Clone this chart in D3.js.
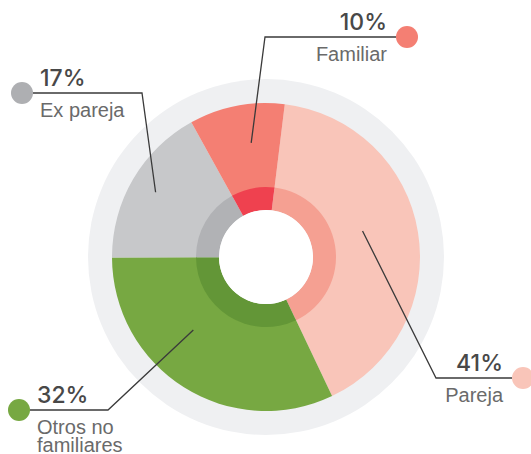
<!DOCTYPE html>
<html>
<head>
<meta charset="utf-8">
<script src="https://cdn.jsdelivr.net/npm/d3@7"></script>
<style>
  body { margin: 0; background: #fff; }
  .pct { font-family: Inter, "Noto Sans", sans-serif; font-size: 23px; font-weight: 500; fill: #484848; }
  .cat { font-family: "Liberation Sans", Arial, sans-serif; font-size: 20px; font-weight: 400; fill: #6a6a6a; }
</style>
</head>
<body>
<div id="chart"></div>
<script>
var svgWidth = 531;
var svgHeight = 454;

// data
var categories = ["Pareja", "Otros no familiares", "Ex pareja", "Familiar"];
var values = [41, 32, 17, 10];
var labels = [["Pareja"], ["Otros no", "familiares"], ["Ex pareja"], ["Familiar"]];
var outerColors = ["#f9c5b9", "#77a842", "#c7c8ca", "#f47f73"];
var innerColors = ["#f5a092", "#639637", "#b1b2b5", "#ef414f"];
var dotColors = ["#f9c5b9", "#77a842", "#aeafb2", "#f47f73"];

var cx = 266, cy = 257;

var svg = d3.select("#chart")
  .append("svg")
  .attr("width", svgWidth)
  .attr("height", svgHeight);

var g = svg.append("g")
  .attr("transform", `translate(${cx}, ${cy})`);

// background ring
g.append("circle")
  .attr("r", 178)
  .attr("fill", "#eff0f2");

var pie = d3.pie()
  .sort(null)
  .startAngle(7 * Math.PI / 180)
  .endAngle(7 * Math.PI / 180 + 2 * Math.PI)
  .value(d => d);

var arcs = pie(values);

var outerArc = d3.arc().innerRadius(69).outerRadius(154);
var innerArc = d3.arc().innerRadius(47).outerRadius(70);

g.selectAll("path.outer")
  .data(arcs)
  .enter()
  .append("path")
  .attr("class", "outer")
  .attr("d", outerArc)
  .attr("fill", (d, i) => outerColors[i]);

g.selectAll("path.inner")
  .data(arcs)
  .enter()
  .append("path")
  .attr("class", "inner")
  .attr("d", innerArc)
  .attr("fill", (d, i) => innerColors[i]);

// white hole
g.append("circle")
  .attr("r", 47)
  .attr("fill", "#fff");

// label layout: where the leader starts in the slice, elbow, dot, side
var layout = [
  { t: 0.46, r: 100, elbow: [436, 378], dot: [523, 378], side: "right" },
  { t: 0.61, r: 103, elbow: [108, 410], dot: [19, 410], side: "left" },
  { t: 0.50, r: 128, elbow: [142, 93], dot: [22, 93], side: "left" },
  { t: 0.60, r: 115, elbow: [265, 37], dot: [407, 37], side: "right" }
];

var ann = svg.append("g");

arcs.forEach(function(a, i) {
  var L = layout[i];
  var ang = a.startAngle + L.t * (a.endAngle - a.startAngle);
  var sx = cx + L.r * Math.sin(ang);
  var sy = cy - L.r * Math.cos(ang);
  var endX = L.side === "right" ? L.dot[0] - 11 : L.dot[0] + 11;

  ann.append("path")
    .attr("d", `M${sx},${sy}L${L.elbow[0]},${L.elbow[1]}L${endX},${L.dot[1]}`)
    .attr("fill", "none")
    .attr("stroke", "#3a3a3a")
    .attr("stroke-width", 1.3);

  ann.append("circle")
    .attr("cx", L.dot[0])
    .attr("cy", L.dot[1])
    .attr("r", 11)
    .attr("fill", dotColors[i]);

  var tx = L.side === "right" ? L.dot[0] - 20 : L.dot[0] + 18;
  var anchor = L.side === "right" ? "end" : "start";

  ann.append("text")
    .attr("class", "pct")
    .attr("x", tx)
    .attr("y", L.dot[1] - 7)
    .attr("text-anchor", anchor)
    .text(values[i] + "%");

  labels[i].forEach(function(line, j) {
    ann.append("text")
      .attr("class", "cat")
      .attr("x", tx)
      .attr("y", L.dot[1] + 24 + j * 18)
      .attr("text-anchor", anchor)
      .text(line);
  });
});
</script>
</body>
</html>
